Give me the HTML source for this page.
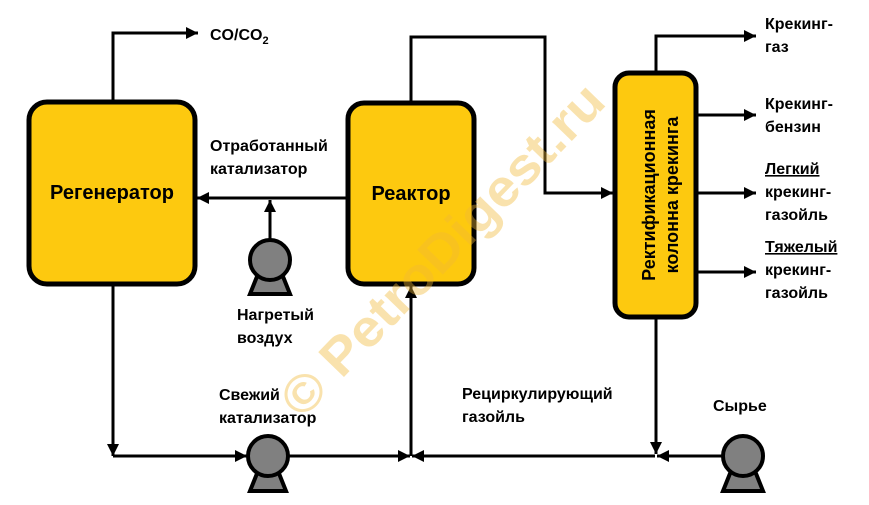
<!DOCTYPE html>
<html><head><meta charset="utf-8"><style>
html,body{margin:0;padding:0;background:#fff}
svg{display:block}
text{font-family:"Liberation Sans","DejaVu Sans",sans-serif;font-weight:bold;fill:#000}
</style></head><body>
<svg width="869" height="505" viewBox="0 0 869 505" xmlns="http://www.w3.org/2000/svg">
<defs>
<marker id="a" viewBox="0 0 10 10" refX="10" refY="5" markerWidth="4" markerHeight="4" orient="auto" markerUnits="strokeWidth"><path d="M0,0 L10,5 L0,10 z" fill="#000"/></marker>
</defs>

<g stroke="#000" stroke-width="3" fill="none">
<polyline points="113,101 113,33 198,33" marker-end="url(#a)"/>
<polyline points="411,102 411,37 545,37 545,193 613,193" marker-end="url(#a)"/>
<line x1="346" y1="198" x2="197" y2="198" marker-end="url(#a)"/>
<line x1="270" y1="240" x2="270" y2="200" marker-end="url(#a)"/>
<polyline points="113,284 113,456" marker-end="url(#a)"/>
<line x1="113" y1="456" x2="247" y2="456" marker-end="url(#a)"/>
<line x1="288" y1="456" x2="410" y2="456" marker-end="url(#a)"/>
<line x1="655" y1="456" x2="412" y2="456" marker-end="url(#a)"/>
<line x1="411" y1="456" x2="411" y2="286" marker-end="url(#a)"/>
<line x1="722" y1="456" x2="657" y2="456" marker-end="url(#a)"/>
<line x1="656" y1="318" x2="656" y2="454" marker-end="url(#a)"/>
<polyline points="656,72 656,36 756,36" marker-end="url(#a)"/>
<line x1="696" y1="115" x2="756" y2="115" marker-end="url(#a)"/>
<line x1="696" y1="193" x2="756" y2="193" marker-end="url(#a)"/>
<line x1="696" y1="272" x2="756" y2="272" marker-end="url(#a)"/>
</g>

<rect x="29" y="102" width="166" height="182" rx="18" fill="#fdc90f" stroke="#000" stroke-width="5"/>
<rect x="348" y="103" width="126" height="181" rx="16" fill="#fdc90f" stroke="#000" stroke-width="5"/>
<rect x="615" y="73" width="81" height="244" rx="14" fill="#fdc90f" stroke="#000" stroke-width="5"/>

<g fill="#808080" stroke="#000" stroke-width="4">
<path d="M258,274 L250,294 L290,294 L282,274 z"/>
<circle cx="270" cy="260" r="20"/>
<path d="M258,471 L250,491 L286,491 L278,471 z"/>
<circle cx="268" cy="456" r="20"/>
<path d="M731,471 L723,491 L763,491 L755,471 z"/>
<circle cx="743" cy="456" r="20"/>
</g>

<text x="112" y="199" font-size="20" text-anchor="middle">Регенератор</text>
<text x="411" y="200" font-size="20" text-anchor="middle">Реактор</text>
<text transform="translate(663,195) rotate(-90)" font-size="18" text-anchor="middle"><tspan x="0" y="-8">Ректификационная</tspan><tspan x="0" y="15">колонна крекинга</tspan></text>

<g font-size="16">
<text x="210" y="40">CO/CO<tspan font-size="11" dy="4">2</tspan></text>
<text x="210" y="151">Отработанный</text>
<text x="210" y="174">катализатор</text>
<text x="237" y="320">Нагретый</text>
<text x="237" y="343">воздух</text>
<text x="219" y="400">Свежий</text>
<text x="219" y="423">катализатор</text>
<text x="462" y="399">Рециркулирующий</text>
<text x="462" y="422">газойль</text>
<text x="713" y="411">Сырье</text>
<text x="765" y="29">Крекинг-</text>
<text x="765" y="52">газ</text>
<text x="765" y="109">Крекинг-</text>
<text x="765" y="132">бензин</text>
<text x="765" y="174" text-decoration="underline">Легкий</text>
<text x="765" y="197">крекинг-</text>
<text x="765" y="220">газойль</text>
<text x="765" y="252" text-decoration="underline">Тяжелый</text>
<text x="765" y="275">крекинг-</text>
<text x="765" y="298">газойль</text>
</g>

<text x="0" y="0" transform="translate(455,262) rotate(-46)" text-anchor="middle" font-size="52" textLength="440" lengthAdjust="spacingAndGlyphs" style="fill:#f2b935;opacity:0.4">© PetroDigest.ru</text>
</svg>
</body></html>
